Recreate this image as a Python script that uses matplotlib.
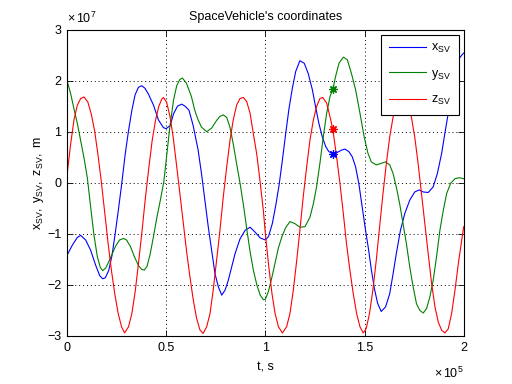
import numpy as np
import matplotlib.pyplot as plt

plt.rcParams['font.family'] = ['Liberation Sans', 'DejaVu Sans']
plt.rcParams['mathtext.fontset'] = 'custom'
plt.rcParams['mathtext.rm'] = 'Liberation Sans'
plt.rcParams['mathtext.it'] = 'Liberation Sans:italic'

# time in 1e5 s, coordinates in 1e7 m
t_x = [0.0, 0.027, 0.052, 0.069, 0.094, 0.119, 0.144, 0.165, 0.18, 0.193, 0.21, 0.227, 0.243,
       0.26, 0.277, 0.293, 0.31, 0.327, 0.343, 0.36, 0.377, 0.393, 0.41, 0.436, 0.461, 0.486,
       0.5, 0.52, 0.537, 0.557, 0.578, 0.595, 0.615, 0.636, 0.661, 0.678, 0.695, 0.712, 0.729,
       0.746, 0.763, 0.78, 0.797, 0.813, 0.83, 0.847, 0.872, 0.898, 0.923, 0.949, 0.974, 1.0,
       1.016, 1.035, 1.052, 1.069, 1.086, 1.102, 1.119, 1.136, 1.153, 1.174, 1.196, 1.216,
       1.237, 1.253, 1.27, 1.287, 1.304, 1.32, 1.34, 1.36, 1.384, 1.401, 1.421, 1.438, 1.455,
       1.471, 1.488, 1.505, 1.52, 1.535, 1.55, 1.566, 1.584, 1.606, 1.627, 1.644, 1.66, 1.681,
       1.703, 1.728, 1.753, 1.775, 1.796, 1.821, 1.846, 1.867, 1.889, 1.905, 1.922, 1.939,
       1.956, 1.973, 1.99, 2.0]
x_sv = [-1.42, -1.22, -1.07, -1.03, -1.12, -1.32, -1.61, -1.82, -1.88, -1.86, -1.72, -1.42, -0.99,
        -0.50, 0.02, 0.55, 1.02, 1.42, 1.72, 1.87, 1.90, 1.85, 1.74, 1.52, 1.23, 1.08,
        1.06, 1.12, 1.35, 1.50, 1.54, 1.50, 1.42, 1.12, 0.64, 0.18, -0.34, -0.86, -1.32,
        -1.78, -2.04, -2.20, -2.10, -1.91, -1.65, -1.39, -1.10, -0.93, -0.87, -0.97, -1.08, -1.12,
        -1.05, -0.80, -0.45, -0.05, 0.45, 0.95, 1.45, 1.85, 2.18, 2.39, 2.34, 2.14,
        1.82, 1.49, 1.16, 0.90, 0.71, 0.61, 0.57, 0.59, 0.64, 0.66, 0.61, 0.51, 0.31,
        -0.01, -0.47, -0.93, -1.30, -1.72, -2.08, -2.36, -2.52, -2.43, -2.17, -1.78, -1.39, -0.93,
        -0.60, -0.34, -0.18, -0.14, -0.18, -0.19, -0.08, 0.18, 0.58, 0.97, 1.36, 1.82,
        2.14, 2.41, 2.50, 2.54]

t_y = [0.0, 0.018, 0.035, 0.052, 0.069, 0.086, 0.103, 0.119, 0.136, 0.153, 0.168, 0.18, 0.195,
       0.21, 0.227, 0.245, 0.265, 0.285, 0.3, 0.32, 0.34, 0.36, 0.375, 0.389, 0.403, 0.419,
       0.436, 0.452, 0.47, 0.488, 0.503, 0.517, 0.537, 0.553, 0.568, 0.582, 0.602, 0.627,
       0.644, 0.661, 0.678, 0.704, 0.729, 0.754, 0.771, 0.788, 0.805, 0.822, 0.839, 0.856,
       0.872, 0.89, 0.906, 0.923, 0.94, 0.957, 0.974, 0.99, 1.0, 1.016, 1.033, 1.05, 1.066,
       1.083, 1.102, 1.124, 1.149, 1.174, 1.2, 1.225, 1.242, 1.258, 1.275, 1.292, 1.309,
       1.326, 1.34, 1.354, 1.371, 1.393, 1.413, 1.434, 1.455, 1.477, 1.498, 1.517, 1.534,
       1.559, 1.584, 1.606, 1.627, 1.644, 1.66, 1.677, 1.694, 1.711, 1.728, 1.745, 1.762,
       1.779, 1.796, 1.813, 1.829, 1.846, 1.863, 1.88, 1.897, 1.914, 1.934, 1.956, 1.978, 2.0]
y_sv = [2.0, 1.75, 1.45, 1.16, 0.82, 0.48, 0.08, -0.47, -1.03, -1.45, -1.66, -1.72, -1.67,
        -1.55, -1.40, -1.24, -1.12, -1.09, -1.12, -1.25, -1.45, -1.62, -1.69, -1.71, -1.64, -1.40,
        -1.05, -0.70, -0.35, 0.02, 0.55, 1.05, 1.62, 1.90, 2.02, 2.05, 1.95, 1.69,
        1.42, 1.23, 1.09, 1.00, 1.07, 1.22, 1.30, 1.33, 1.28, 1.08, 0.74, 0.35,
        0.0, -0.45, -0.90, -1.35, -1.72, -2.0, -2.2, -2.29, -2.28, -2.12, -1.85, -1.55, -1.27,
        -1.06, -0.88, -0.76, -0.80, -0.87, -0.86, -0.67, -0.41, -0.08, 0.38, 0.90, 1.36,
        1.69, 1.83, 2.08, 2.34, 2.46, 2.41, 2.14, 1.82, 1.36, 0.90, 0.58, 0.41,
        0.35, 0.38, 0.41, 0.35, 0.18, -0.08, -0.41, -0.80, -1.19, -1.65, -2.04, -2.37,
        -2.50, -2.55, -2.46, -2.24, -1.91, -1.45, -0.93, -0.54, -0.21, -0.01, 0.08, 0.10, 0.08]

t_z = [0.0, 0.018, 0.035, 0.052, 0.069, 0.086, 0.105, 0.122, 0.139, 0.156, 0.173, 0.19, 0.207,
       0.224, 0.241, 0.258, 0.275, 0.29, 0.31, 0.327, 0.344, 0.361, 0.378, 0.395, 0.412,
       0.429, 0.446, 0.463, 0.478, 0.486, 0.502, 0.519, 0.535, 0.552, 0.569, 0.586, 0.603,
       0.62, 0.636, 0.653, 0.67, 0.686, 0.704, 0.721, 0.737, 0.754, 0.771, 0.788, 0.805,
       0.822, 0.838, 0.855, 0.872, 0.889, 0.906, 0.923, 0.939, 0.957, 0.974, 0.99, 1.0,
       1.016, 1.033, 1.049, 1.066, 1.086, 1.107, 1.124, 1.141, 1.158, 1.174, 1.191, 1.208,
       1.225, 1.242, 1.258, 1.275, 1.289, 1.309, 1.326, 1.34, 1.359, 1.376, 1.393, 1.409,
       1.426, 1.443, 1.46, 1.477, 1.493, 1.508, 1.525, 1.542, 1.559, 1.576, 1.593, 1.61,
       1.627, 1.644, 1.661, 1.678, 1.697, 1.72, 1.736, 1.753, 1.77, 1.787, 1.804, 1.821,
       1.838, 1.855, 1.872, 1.889, 1.905, 1.922, 1.939, 1.956, 1.973, 1.99, 2.0]
z_sv = [0.15, 0.75, 1.23, 1.52, 1.65, 1.68, 1.58, 1.35, 1.02, 0.55, 0.02, -0.58, -1.18,
        -1.72, -2.18, -2.56, -2.82, -2.94, -2.82, -2.56, -2.12, -1.55, -0.95, -0.30, 0.28,
        0.82, 1.22, 1.50, 1.64, 1.67, 1.58, 1.30, 0.90, 0.35, -0.21, -0.78, -1.35,
        -1.85, -2.28, -2.65, -2.88, -2.95, -2.82, -2.56, -2.10, -1.52, -0.93, -0.27, 0.31,
        0.84, 1.23, 1.52, 1.65, 1.67, 1.59, 1.36, 0.97, 0.55, 0.0, -0.55, -1.0,
        -1.6, -2.16, -2.56, -2.82, -2.94, -2.82, -2.56, -2.10, -1.52, -0.93, -0.27, 0.31,
        0.84, 1.23, 1.49, 1.65, 1.67, 1.56, 1.29, 1.05, 0.51, -0.01, -0.60, -1.19,
        -1.71, -2.17, -2.56, -2.82, -2.94, -2.86, -2.56, -2.10, -1.52, -0.86, -0.21, 0.38,
        0.90, 1.29, 1.50, 1.62, 1.67, 1.58, 1.29, 0.90, 0.38, -0.21, -0.80, -1.39,
        -1.97, -2.43, -2.73, -2.89, -2.94, -2.86, -2.56, -2.10, -1.58, -1.12, -0.86]

# marked moment
t_mark = 1.34
mark_vals = [0.57, 1.83, 1.05]

colors = ['#0000ff', '#008000', '#ff0000']
labels = [r'$\mathrm{x}_{\mathrm{SV}}$', r'$\mathrm{y}_{\mathrm{SV}}$', r'$\mathrm{z}_{\mathrm{SV}}$']

fig = plt.figure(figsize=(5.12, 3.84), dpi=100)
ax = fig.add_axes([0.1309, 0.125, 0.7748, 0.798])

for tt, vv, c, lab in zip([t_x, t_y, t_z], [x_sv, y_sv, z_sv], colors, labels):
    ax.plot(tt, vv, color=c, lw=0.8, label=lab)
for v, c in zip(mark_vals, colors):
    ax.plot([t_mark], [v], marker=(8, 2, 0), color=c, ms=6, mew=0.9, ls='none')

ax.set_xlim(0, 2)
ax.set_ylim(-3, 3)
ax.set_xticks([0, 0.5, 1, 1.5, 2])
ax.set_xticklabels(['0', '0.5', '1', '1.5', '2'])
ax.set_yticks([-3, -2, -1, 0, 1, 2, 3])
ax.tick_params(direction='in', top=True, right=True, length=4, width=0.6, labelsize=9, pad=4)
ax.grid(True, color='black', ls=(0, (1, 3)), lw=0.7)
for s in ax.spines.values():
    s.set_linewidth(0.8)

ax.set_title("SpaceVehicle's coordinates", fontsize=9, pad=7)
ax.set_xlabel('t, s', fontsize=9, labelpad=6)
ax.set_ylabel(r'$\mathrm{x}_{\mathrm{SV}}\mathrm{,\ y}_{\mathrm{SV}}\mathrm{,\ z}_{\mathrm{SV}}\mathrm{,\ m}$',
              fontsize=9, labelpad=1)

ax.text(0.0, 1.012, r'$\times\,10^{7}$', transform=ax.transAxes, fontsize=9, ha='left', va='bottom')
ax.text(1.0, -0.098, r'$\times\,10^{5}$', transform=ax.transAxes, fontsize=9, ha='right', va='top')

leg = ax.legend(loc='upper right', fontsize=9, frameon=True, fancybox=False, framealpha=1,
                edgecolor='black', borderaxespad=0.4, labelspacing=1.0, handlelength=3.0,
                handletextpad=0.4, borderpad=0.6)
leg.get_frame().set_linewidth(0.8)

fig.savefig('out.png', dpi=100)
